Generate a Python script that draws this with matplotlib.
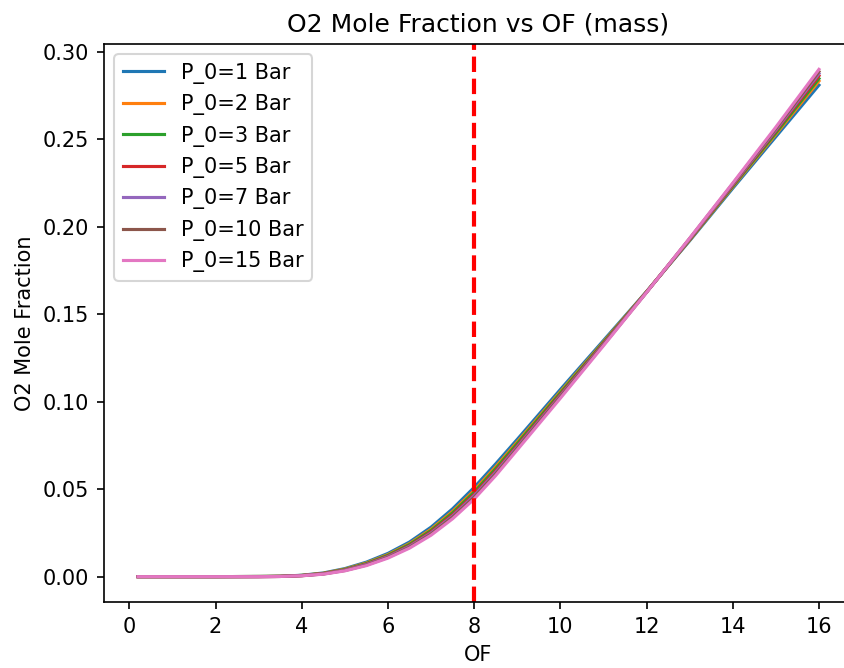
import matplotlib.pyplot as plt

# OF (mass) values and O2 mole fraction
of_vals = [0.2, 1, 2, 3, 3.5, 4, 4.5, 5, 5.5, 6, 6.5, 7, 7.5, 8, 8.5, 9, 10, 11, 12, 13, 14, 15, 16]

p1 = [0, 0, 0, 0.0001, 0.0002, 0.0008, 0.0021, 0.0046, 0.0083, 0.0133, 0.0198, 0.0283, 0.0388,
      0.0510, 0.0645, 0.0785, 0.1070, 0.1350, 0.1630, 0.1920, 0.2220, 0.2515, 0.2810]
p2 = [0, 0, 0, 0.0001, 0.0002, 0.0007, 0.0019, 0.0043, 0.0078, 0.0126, 0.0189, 0.0271, 0.0373,
      0.0493, 0.0628, 0.0770, 0.1057, 0.1342, 0.1629, 0.1924, 0.2228, 0.2529, 0.2833]
p3 = [0, 0, 0, 0.0001, 0.0002, 0.0007, 0.0018, 0.0041, 0.0075, 0.0122, 0.0184, 0.0264, 0.0365,
      0.0483, 0.0618, 0.0761, 0.1050, 0.1338, 0.1628, 0.1926, 0.2232, 0.2537, 0.2847]
p5 = [0, 0, 0, 0, 0.0001, 0.0006, 0.0017, 0.0038, 0.0071, 0.0117, 0.0177, 0.0256, 0.0354,
      0.0471, 0.0605, 0.0749, 0.1040, 0.1332, 0.1627, 0.1929, 0.2238, 0.2548, 0.2863]
p7 = [0, 0, 0, 0, 0.0001, 0.0006, 0.0016, 0.0037, 0.0069, 0.0114, 0.0173, 0.0250, 0.0347,
      0.0463, 0.0597, 0.0742, 0.1034, 0.1328, 0.1626, 0.1931, 0.2242, 0.2554, 0.2875]
p10 = [0, 0, 0, 0, 0.0001, 0.0005, 0.0015, 0.0035, 0.0066, 0.0110, 0.0168, 0.0244, 0.0340,
       0.0454, 0.0588, 0.0734, 0.1028, 0.1325, 0.1626, 0.1933, 0.2246, 0.2562, 0.2887]
p15 = [0, 0, 0, 0, 0.0001, 0.0005, 0.0014, 0.0033, 0.0063, 0.0106, 0.0163, 0.0237, 0.0331,
       0.0444, 0.0578, 0.0725, 0.1020, 0.1320, 0.1625, 0.1935, 0.2250, 0.2570, 0.2900]

pressures = [1, 2, 3, 5, 7, 10, 15]
series = [p1, p2, p3, p5, p7, p10, p15]

fig = plt.figure(figsize=(844 / 150, 668 / 150), dpi=150)
ax = fig.add_axes([104 / 844, 66 / 668, 749 / 844, 558 / 668])

for p, y in zip(pressures, series):
    ax.plot(of_vals, y, label=f"P_0={p} Bar")

ax.axvline(8, color="red", linestyle="--", linewidth=2)

ax.set_title("O2 Mole Fraction vs OF (mass)")
ax.set_xlabel("OF")
ax.set_ylabel("O2 Mole Fraction")
ax.legend(loc="upper left")

plt.savefig("out.png", dpi=150)
